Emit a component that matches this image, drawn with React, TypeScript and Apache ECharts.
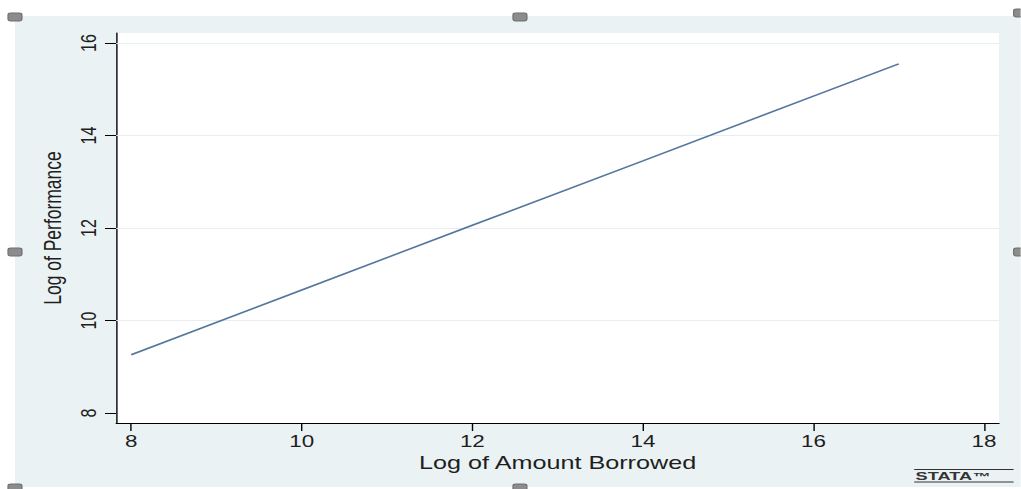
import React, { useEffect, useRef } from "react";
import * as echarts from "echarts";

// ---- data ----
const xValues = [8, 10, 12, 14, 16, 17];
const yValues = [9.26, 10.66, 12.06, 13.45, 14.85, 15.55];
const xTicks = [8, 10, 12, 14, 16, 18];
const yTicks = [8, 10, 12, 14, 16];
const gridValues = [10, 12, 14, 16];
const xTitle = "Log of Amount Borrowed";
const yTitle = "Log of Performance";

const STRETCH = 1.4;
const W = 729;
const H = 489;
const FONT = "'Liberation Sans', Arial, sans-serif";
const BG = "#eaf2f3";
const TEXT = "#1e1e1e";

export default function App() {
  const ref = useRef<HTMLDivElement>(null);
  useEffect(() => {
    if (!ref.current) return;
    const chart = echarts.init(ref.current, undefined, { renderer: "svg" });
    const handle = (cx: number, cy: number) => ({
      type: "rect",
      z: 100,
      shape: { x: cx - 5, y: cy - 4, width: 10, height: 8, r: 2 },
      style: { fill: "#8c8c8c", stroke: "#6e6e6e", lineWidth: 0.8 },
    });
    chart.setOption({
      animation: false,
      backgroundColor: "#ffffff",
      grid: {
        left: 83,
        right: 15.4,
        top: 33,
        bottom: 66,
        show: true,
        backgroundColor: "#ffffff",
        borderWidth: 0,
      },
      xAxis: {
        type: "value",
        min: 7.824,
        max: 18.176,
        name: xTitle,
        nameLocation: "middle",
        nameGap: 28,
        nameTextStyle: { fontSize: 18, color: TEXT, fontFamily: FONT },
        axisLine: { show: true, lineStyle: { color: "#000", width: 1 } },
        axisTick: { show: true, customValues: xTicks, length: 8, lineStyle: { color: "#000", width: 1 } },
        axisLabel: { customValues: xTicks, fontSize: 16, color: TEXT, fontFamily: FONT, margin: 10 },
        splitLine: { show: false },
      },
      yAxis: {
        type: "value",
        min: 7.784,
        max: 16.216,
        name: yTitle,
        nameLocation: "middle",
        nameGap: 34,
        nameRotate: 90,
        nameTextStyle: { fontSize: 17.5, color: TEXT, fontFamily: FONT },
        axisLine: { show: true, lineStyle: { color: "#000", width: 1 } },
        axisTick: { show: true, customValues: yTicks, length: 8, lineStyle: { color: "#000", width: 1 } },
        axisLabel: { customValues: yTicks, rotate: 90, fontSize: 16, color: TEXT, fontFamily: FONT, margin: 12 },
        splitLine: { show: false },
      },
      series: [
        {
          type: "line",
          z: 1,
          data: [],
          silent: true,
          markLine: {
            silent: true,
            symbol: "none",
            label: { show: false },
            lineStyle: { color: "#e6eef0", type: "solid", width: 1 },
            data: gridValues.map((v) => ({ yAxis: v })),
          },
        },
        {
          type: "line",
          z: 5,
          data: xValues.map((x, i) => [x, yValues[i]]),
          showSymbol: false,
          symbol: "none",
          lineStyle: { color: "#55769e", width: 1.5 },
        },
      ],
      graphic: [
        {
          type: "rect",
          z: -10,
          shape: { x: 10.7, y: 16, width: W, height: 471 },
          style: { fill: BG },
        },
        handle(10.7, 17),
        handle(371.4, 17),
        handle(10.7, 252),
        handle(729, 252),
        handle(10.7, 488),
        handle(371.4, 488),
        handle(729, 13),
        {
          type: "line",
          z: 50,
          shape: { x1: 653, y1: 469.5, x2: 724, y2: 469.5 },
          style: { stroke: "#333", lineWidth: 1 },
        },
        {
          type: "text",
          z: 50,
          x: 654,
          y: 471.5,
          scaleX: 1.3,
          style: {
            text: "STATA™",
            fontSize: 10,
            fontWeight: "bold",
            fontFamily: FONT,
            fill: "#333",
          },
        },
        {
          type: "line",
          z: 50,
          shape: { x1: 653, y1: 482, x2: 724, y2: 482 },
          style: { stroke: "#333", lineWidth: 1 },
        },
      ],
    });
    return () => chart.dispose();
  }, []);
  return (
    <div
      ref={ref}
      style={{
        position: "fixed",
        left: 0,
        top: 0,
        width: W,
        height: H,
        transform: `scaleX(${STRETCH})`,
        transformOrigin: "0 0",
      }}
    />
  );
}
